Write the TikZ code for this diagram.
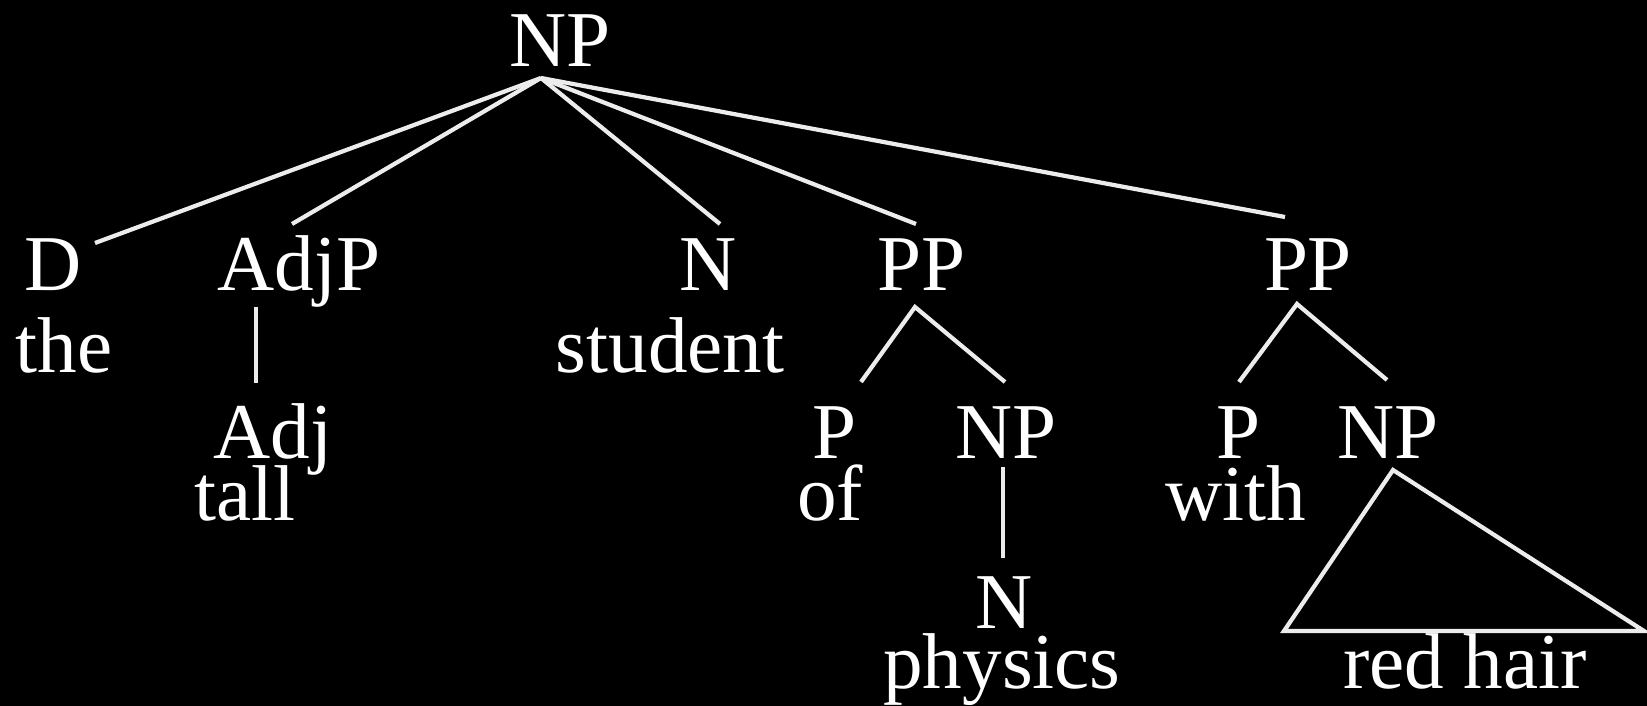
\documentclass[tikz,border=0pt]{standalone}
\usepackage{fontspec}
\setmainfont{Liberation Serif}
\definecolor{labelWhite}{RGB}{255,255,255}
\definecolor{branchGray}{RGB}{236,236,236}

\begin{document}
\begin{tikzpicture}[x=0.01cm, y=-0.01cm,
    every node/.style={font=\fontsize{22.5}{27}\selectfont, text=labelWhite,
      inner sep=0pt, anchor=base},
    branch/.style={draw=branchGray, line width=1.2pt}
  ]
    \fill[black] (0,0) rectangle (1647,706);
    \useasboundingbox (0,0) rectangle (1647,706);
    % Categories and words
    \node (np) at (560,67) {NP};
    \node (d) at (53,290) {D};
    \node (the) at (64,373) {the};
    \node (adjp) at (299,290) {AdjP};
    \node (adj) at (273,458) {Adj};
    \node (tall) at (245,520) {tall};
    \node (n) at (708,290) {N};
    \node (student) at (670,373) {student};
    \node (ppa) at (922,290) {PP};
    \node (pa) at (835,458) {P};
    \node (of) at (830,520) {of};
    \node (npa) at (1006,458) {NP};
    \node (na) at (1004,628) {N};
    \node (physics) at (1002,688) {physics};
    \node (ppb) at (1308,290) {PP};
    \node (pb) at (1238,458) {P};
    \node (with) at (1236,520) {with};
    \node (npb) at (1388,458) {NP};
    \node (redhair) at (1465,688) {red hair};
    % Branch ends
    \coordinate (np-low) at (541,78);
    \coordinate (d-up) at (95,243);
    \coordinate (adjp-up) at (292,224);
    \coordinate (n-up) at (720,224);
    \coordinate (ppa-up) at (916,224);
    \coordinate (ppb-up) at (1285,217);
    \coordinate (adjp-low) at (256,307);
    \coordinate (adj-up) at (256,383);
    \coordinate (ppa-low) at (915,307);
    \coordinate (pa-up) at (861,382);
    \coordinate (npa-up) at (1005,382);
    \coordinate (npa-low) at (1003,467);
    \coordinate (na-up) at (1003,558);
    \coordinate (ppb-low) at (1297,304);
    \coordinate (pb-up) at (1239,382);
    \coordinate (npb-up) at (1387,380);
    \coordinate (npb-low) at (1393,470);
    \coordinate (tri-left) at (1284,631);
    \coordinate (tri-right) at (1644,631);
    % Branches
    \draw[branch] (np-low) -- (d-up);
    \draw[branch] (np-low) -- (adjp-up);
    \draw[branch] (np-low) -- (n-up);
    \draw[branch] (np-low) -- (ppa-up);
    \draw[branch] (np-low) -- (ppb-up);
    \draw[branch] (adjp-low) -- (adj-up);
    \draw[branch] (pa-up) -- (ppa-low) -- (npa-up);
    \draw[branch] (npa-low) -- (na-up);
    \draw[branch] (pb-up) -- (ppb-low) -- (npb-up);
    \draw[branch] (npb-low) -- (tri-left) -- (tri-right) -- cycle;
  \end{tikzpicture}
\end{document}
